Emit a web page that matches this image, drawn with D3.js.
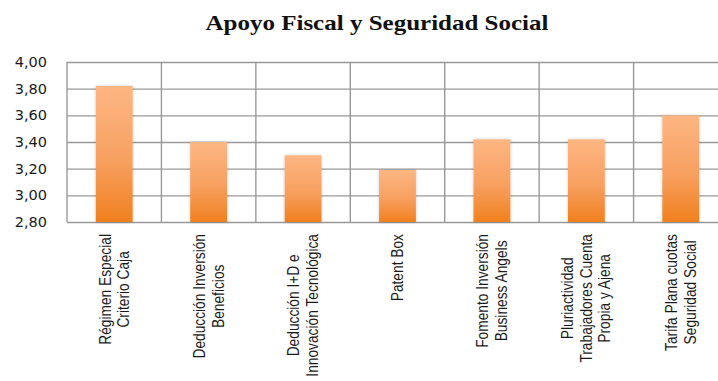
<!DOCTYPE html>
<html>
<head>
<meta charset="utf-8">
<script src="https://cdn.jsdelivr.net/npm/d3@7"></script>
<style>
  html, body { margin: 0; padding: 0; background: #fff; overflow: hidden; }
  svg { display: block; }
</style>
</head>
<body>
<svg id="chart" width="718" height="381"></svg>
<script>
// Category labels, one array of lines per category
const categories = [
  ["Régimen Especial", "Criterio Caja"],
  ["Deducción Inversión", "Beneficios"],
  ["Deducción I+D e", "Innovación Tecnológica"],
  ["Patent Box"],
  ["Fomento Inversión", "Business Angels"],
  ["Pluriactividad", "Trabajadores Cuenta", "Propia y Ajena"],
  ["Tarifa Plana cuotas", "Seguridad Social"]
];

// Average score per measure
const values = [3.82, 3.40, 3.30, 3.19, 3.42, 3.42, 3.60];

// Value axis ticks
const yTicks = [2.80, 3.00, 3.20, 3.40, 3.60, 3.80, 4.00];

const titleText = "Apoyo Fiscal y Seguridad Social";

const svg = d3.select("#chart");
const plot = { left: 67, right: 728, top: 62, bottom: 222 };
const plotW = plot.right - plot.left;

const es = d3.formatLocale({ decimal: ",", thousands: ".", grouping: [3], currency: ["", " €"] });
const fmt = es.format(".2f");

const x = d3.scaleBand()
  .domain(d3.range(categories.length))
  .range([plot.left, plot.right])
  .paddingInner(0).paddingOuter(0);

const y = d3.scaleLinear()
  .domain([yTicks[0], yTicks[yTicks.length - 1]])
  .range([plot.bottom, plot.top]);

// Gradient and soft shadow for the bars
const defs = svg.append("defs");
const grad = defs.append("linearGradient")
  .attr("id", "barGrad").attr("x1", 0).attr("y1", 0).attr("x2", 0).attr("y2", 1);
grad.append("stop").attr("offset", "0%").attr("stop-color", "#fdb682");
grad.append("stop").attr("offset", "55%").attr("stop-color", "#f7a060");
grad.append("stop").attr("offset", "100%").attr("stop-color", "#f0801e");

const shadow = defs.append("filter").attr("id", "barShadow")
  .attr("x", "-20%").attr("y", "-5%").attr("width", "140%").attr("height", "110%");
shadow.append("feDropShadow")
  .attr("dx", 0).attr("dy", 0).attr("stdDeviation", 1.6)
  .attr("flood-color", "#000").attr("flood-opacity", 0.22);

// Horizontal gridlines
const grid = svg.append("g")
  .attr("transform", `translate(${plot.left},0)`)
  .call(d3.axisLeft(y).tickValues(yTicks).tickSize(-plotW).tickFormat(""));
grid.select(".domain").remove();
grid.selectAll("line").attr("stroke", "#999").attr("stroke-width", 1.4);

// Vertical category separators
const bounds = categories.map((c, i) => x(i)).concat([plot.right]);
svg.append("g").selectAll("line")
  .data(bounds)
  .join("line")
  .attr("x1", d => d).attr("x2", d => d)
  .attr("y1", plot.top).attr("y2", plot.bottom)
  .attr("stroke", "#999").attr("stroke-width", 1.4);

// Bars
const barW = x.bandwidth() * 0.39;
svg.append("g").selectAll("rect")
  .data(values)
  .join("rect")
  .attr("x", (d, i) => x(i) + (x.bandwidth() - barW) / 2)
  .attr("y", d => y(d))
  .attr("width", barW)
  .attr("height", d => y(yTicks[0]) - y(d))
  .attr("fill", "url(#barGrad)")
  .attr("filter", "url(#barShadow)");

// Value axis labels
const yAxis = svg.append("g")
  .attr("transform", `translate(${plot.left},0)`)
  .call(d3.axisLeft(y).tickValues(yTicks).tickSize(0).tickPadding(20).tickFormat(fmt));
yAxis.select(".domain").remove();
yAxis.selectAll("text")
  .attr("font-family", "'DejaVu Sans', Verdana, sans-serif")
  .attr("font-size", 14.5)
  .attr("fill", "#1a1a1a");

// Rotated category labels, anchored at the top, lines centred in their block;
// glyphs are compressed along the reading direction for a narrow face
const lineGap = 18.5;
const labelTop = 234;
const labelFont = "'Liberation Sans', Arial, sans-serif";
const labels = svg.append("g");
categories.forEach((lines, i) => {
  const cx = x(i) + x.bandwidth() / 2;
  const g = labels.append("g")
    .attr("transform", `translate(${cx},${labelTop}) rotate(-90) scale(0.86,1)`);
  const texts = lines.map((ln, k) => g.append("text")
    .attr("y", (k - (lines.length - 1) / 2) * lineGap)
    .attr("dy", "0.35em")
    .attr("font-family", labelFont)
    .attr("font-size", 16)
    .attr("fill", "#1a1a1a")
    .text(ln));
  const maxW = d3.max(texts, t => t.node().getComputedTextLength());
  texts.forEach(t => t.attr("x", -maxW / 2).attr("text-anchor", "middle"));
});

// Title
const title = svg.append("text")
  .attr("x", 377).attr("y", 30)
  .attr("text-anchor", "middle")
  .attr("font-family", "'Liberation Serif', 'DejaVu Serif', serif")
  .attr("font-weight", "bold")
  .attr("font-size", 21)
  .attr("fill", "#111")
  .text(titleText);
const tw = title.node().getComputedTextLength();
if (Math.abs(tw - 343) > 4) {
  title.attr("textLength", 343).attr("lengthAdjust", "spacingAndGlyphs");
}
</script>
</body>
</html>
